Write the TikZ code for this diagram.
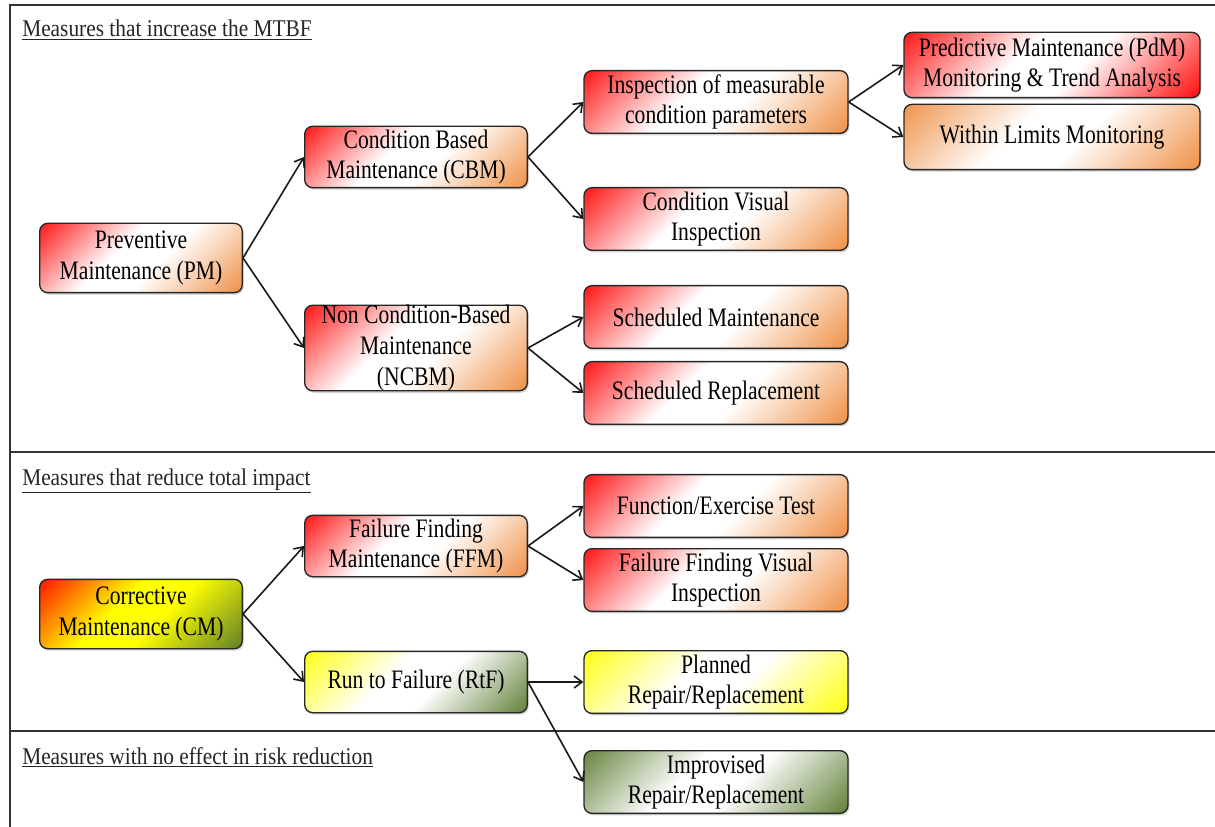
\documentclass[tikz,border=0pt]{standalone}
\usepackage{fontspec}
\setmainfont{Liberation Serif}
\newfontfamily\boxfont{Liberation Serif}[FakeStretch=0.81]
\newfontfamily\headfont{Liberation Serif}[FakeStretch=0.89]
\usetikzlibrary{arrows.meta,shadows}
\definecolor{boxred}{HTML}{FF0000}
\definecolor{boxorange}{HTML}{EE8A3C}
\definecolor{boxyellow}{HTML}{FFFF00}
\definecolor{boxgreen}{HTML}{58782C}
\definecolor{framegray}{HTML}{333333}
\colorlet{tinta}{boxred}
\colorlet{tintm}{white}
\colorlet{tintb}{boxorange}
\pgfdeclareverticalshading[tinta,tintm,tintb]{tintshade}{100bp}{color(0bp)=(tintb);
  color(13bp)=(tintb); color(44bp)=(tintm); color(58bp)=(tintm); color(88bp)=(tinta);
  color(100bp)=(tinta)}

\tikzset{
  box/.style={draw=black!85, line width=1pt, rounded corners=6pt, align=center,
    inner sep=0pt, text=black, font=\boxfont\fontsize{20}{23}\selectfont,
    drop shadow={shadow xshift=1pt, shadow yshift=-1.5pt, opacity=0.35}},
  tint/.style n args={3}{/utils/exec={\colorlet{tinta}{#1}\colorlet{tintm}{#2}\colorlet{tintb}{#3}},
    shading=tintshade, shading angle=45},
  redorange/.style={tint={boxred}{white}{boxorange}},
  lvlzero/.style={box, minimum width=152pt, minimum height=52pt},
  lvlone/.style={box, minimum width=167pt, minimum height=46pt},
  lvltwo/.style={box, minimum width=198pt, minimum height=47pt},
  lvlthree/.style={box, minimum width=222pt, minimum height=49pt},
  heading/.style={anchor=base west, inner sep=0pt, text=black!85,
    font=\headfont\fontsize{18}{21}\selectfont},
  link/.style={draw=black!90, line width=1.2pt, -{Straight Barb[length=6pt, width=9pt]}},
  frame/.style={draw=framegray, line width=1.4pt}
}

\begin{document}
\begin{tikzpicture}[x=0.75pt, y=-0.75pt]
  \useasboundingbox (0,0) rectangle (1215,827);
  % section frame
  \draw[frame] (10,827) -- (10,5) -- (1215,5);
  \draw[frame] (10,452) -- (1215,452);
  \draw[frame] (10,731) -- (1215,731);
  \node[heading] (hmtbf) at (22,37) {\underline{Measures that increase the MTBF}};
  \node[heading] (himpact) at (22,485) {\underline{Measures that reduce total impact}};
  \node[heading] (hnone) at (22,764) {\underline{Measures with no effect in risk reduction}};

  % preventive branch
  \node[lvlzero, redorange] (pm) at (141,258) {Preventive\\Maintenance (PM)};
  \node[lvlone, redorange] (cbm) at (416,157) {Condition Based\\Maintenance (CBM)};
  \node[lvlone, redorange] (ncbm) at (416,348) {Non Condition-Based\\Maintenance\\(NCBM)};
  \node[lvltwo, redorange] (imcp) at (716,102) {Inspection of measurable\\condition parameters};
  \node[lvltwo, redorange] (cvi) at (716,219) {Condition Visual\\Inspection};
  \node[lvltwo, redorange] (sm) at (716,317) {Scheduled Maintenance};
  \node[lvltwo, redorange] (sr) at (716,393) {Scheduled Replacement};
  \node[lvlthree, tint={boxred}{white}{boxred}] (pdm) at (1052,65) {Predictive Maintenance (PdM)\\Monitoring \& Trend Analysis};
  \node[lvlthree, tint={boxorange}{white}{boxorange}] (wlm) at (1052,137) {Within Limits Monitoring};

  % corrective branch
  \node[lvlzero, tint={boxred}{boxyellow}{boxgreen}] (cm) at (141,614) {Corrective\\Maintenance (CM)};
  \node[lvlone, redorange] (ffm) at (416,546) {Failure Finding\\Maintenance (FFM)};
  \node[lvlone, tint={boxyellow}{white}{boxgreen}] (rtf) at (416,682) {Run to Failure (RtF)};
  \node[lvltwo, redorange] (fet) at (716,506) {Function/Exercise Test};
  \node[lvltwo, redorange] (ffvi) at (716,580) {Failure Finding Visual\\Inspection};
  \node[lvltwo, tint={boxyellow}{white}{boxyellow}] (prr) at (716,682) {Planned\\Repair/Replacement};
  \node[lvltwo, tint={boxgreen}{white}{boxgreen}] (irr) at (716,782) {Improvised\\Repair/Replacement};

  \foreach \from/\to in {pm/cbm, pm/ncbm, cbm/imcp, cbm/cvi, ncbm/sm, ncbm/sr,
    imcp/pdm, imcp/wlm, cm/ffm, cm/rtf, ffm/fet, ffm/ffvi, rtf/prr, rtf/irr}
    \draw[link] (\from.east) -- (\to.west);
\end{tikzpicture}
\end{document}
